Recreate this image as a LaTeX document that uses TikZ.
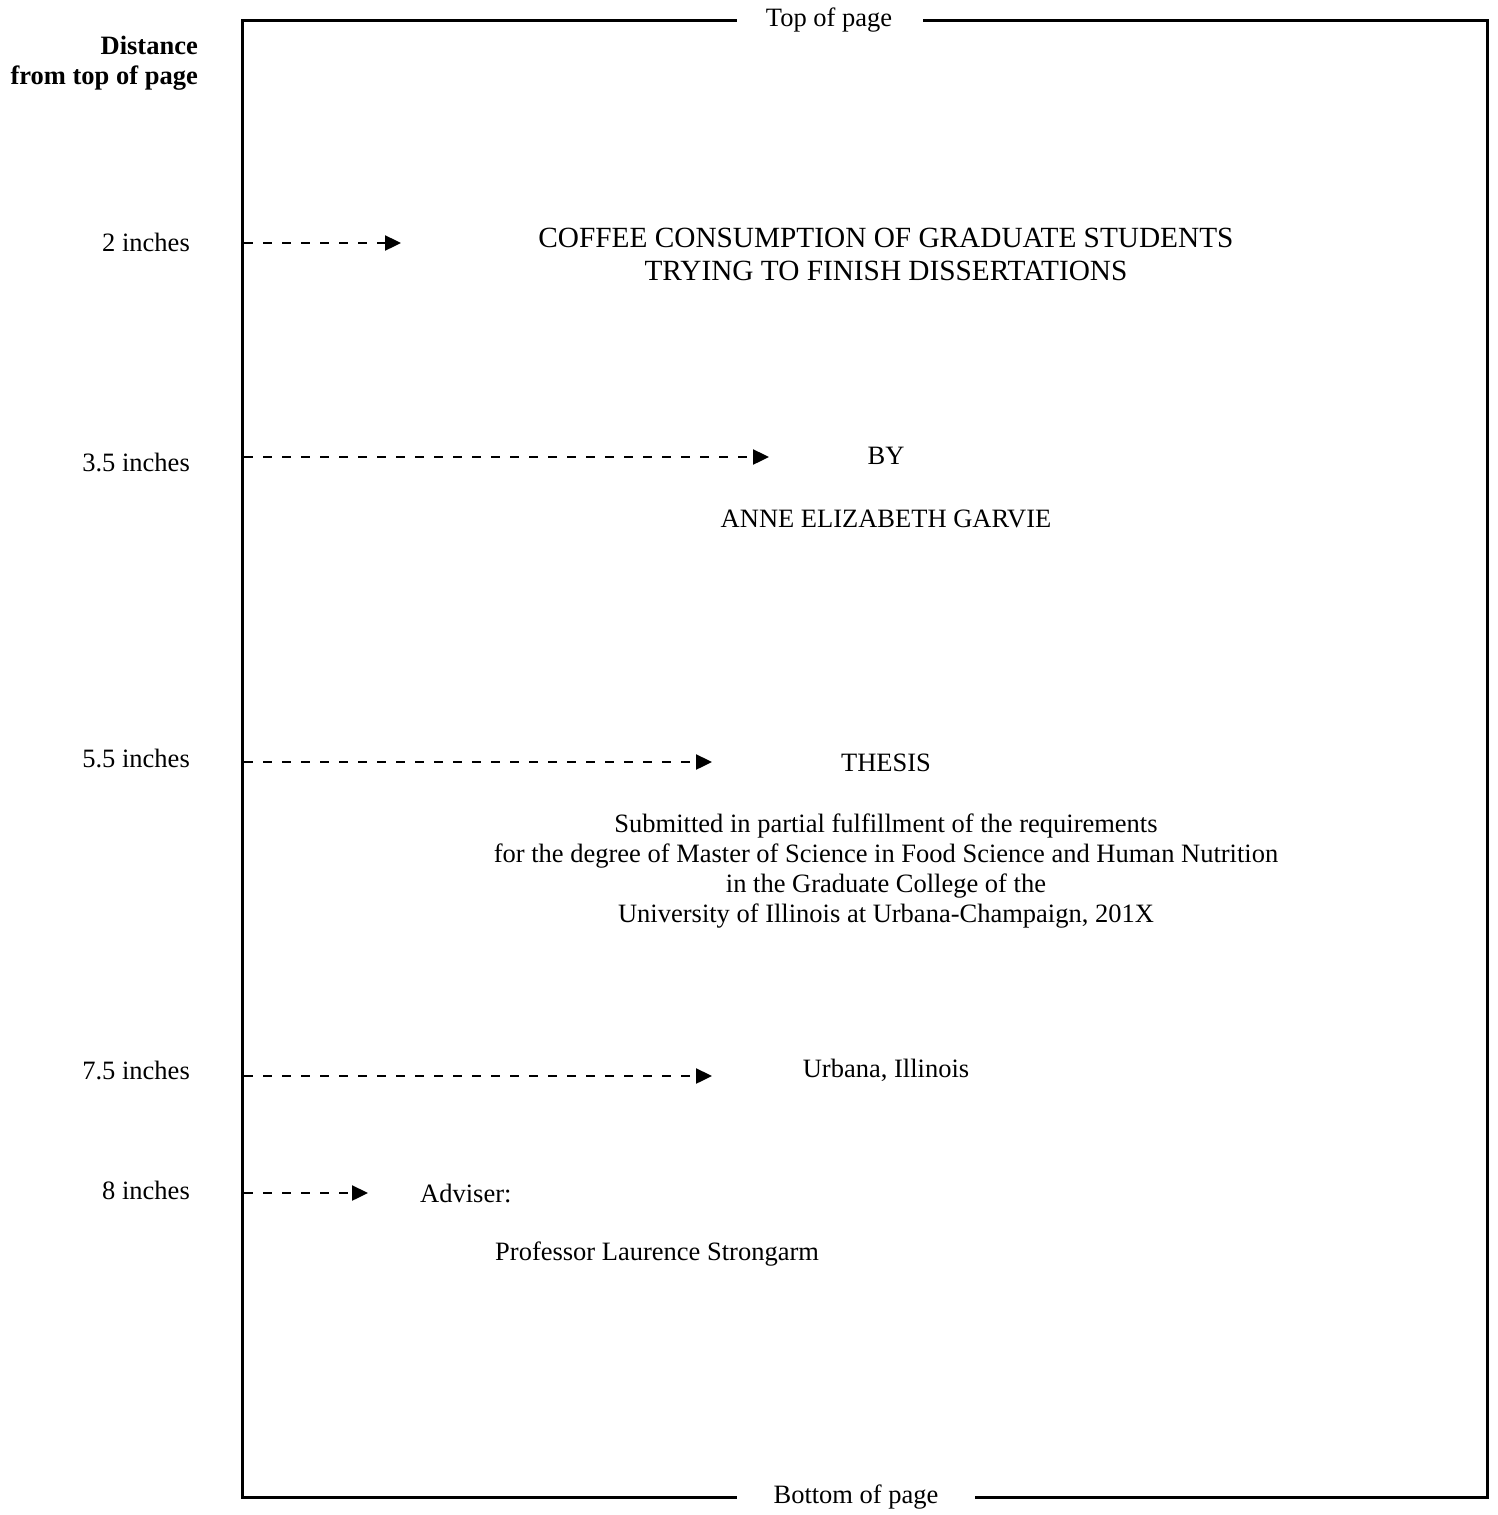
\documentclass[tikz,border=0pt]{standalone}
\usepackage{fontspec}
\setmainfont{Liberation Serif}
\usetikzlibrary{arrows.meta}
\begin{document}
\begin{tikzpicture}[x=1pt,y=-1pt,
  txt/.style={font=\fontsize{26.5}{30}\selectfont, inner sep=0pt},
  ttl/.style={font=\fontsize{29.3}{33}\selectfont, inner sep=0pt, align=center},
  lbl/.style={txt, anchor=east},
  frame/.style={line width=3pt},
  dasharrow/.style={line width=2.4pt, dash pattern=on 9pt off 10pt, -{Triangle[length=16pt,width=15pt]}}
]
\useasboundingbox (0,0) rectangle (1497,1515);
% frame corners
\coordinate (tl) at (242,20);
\coordinate (tr) at (1487,20);
\coordinate (bl) at (242,1497);
\coordinate (br) at (1487,1497);
\coordinate (t1) at (735,20);
\coordinate (t2) at (924,20);
\coordinate (b1) at (735,1497);
\coordinate (b2) at (976,1497);
\node[txt] (top) at (829,20) {Top of page};
\node[txt] (bottom) at (856,1497) {Bottom of page};
\draw[frame, line cap=rect] (t1) -- (tl) -- (bl) -- (b1);
\draw[frame, line cap=rect] (t2) -- (tr) -- (br) -- (b2);

% heading
\node[txt, font=\bfseries\fontsize{26.5}{30}\selectfont, align=right, anchor=east] (head) at (198,63) {Distance\\from top of page};

% distance labels
\node[lbl] (l2) at (190,242) {2 inches};
\node[lbl] (l35) at (190,462) {3.5 inches};
\node[lbl] (l55) at (190,758) {5.5 inches};
\node[lbl] (l75) at (190,1070) {7.5 inches};
\node[lbl] (l8) at (190,1190) {8 inches};

% arrows
\coordinate (s2) at (244,243);   \coordinate (e2) at (401,243);
\coordinate (s35) at (244,457);  \coordinate (e35) at (769,457);
\coordinate (s55) at (244,762);  \coordinate (e55) at (712,762);
\coordinate (s75) at (244,1076); \coordinate (e75) at (712,1076);
\coordinate (s8) at (244,1193);  \coordinate (e8) at (368,1193);
\draw[dasharrow] (s2) -- (e2);
\draw[dasharrow] (s35) -- (e35);
\draw[dasharrow] (s55) -- (e55);
\draw[dasharrow] (s75) -- (e75);
\draw[dasharrow] (s8) -- (e8);

% page content
\node[ttl] (title) at (886,254) {COFFEE CONSUMPTION OF GRADUATE STUDENTS\\TRYING TO FINISH DISSERTATIONS};
\node[txt] (by) at (886,456) {BY};
\node[txt] (author) at (886,519) {ANNE ELIZABETH GARVIE};
\node[txt] (thesis) at (886,763) {THESIS};
\node[txt, align=center] (sub) at (886,871) {Submitted in partial fulfillment of the requirements\\for the degree of Master of Science in Food Science and Human Nutrition\\in the Graduate College of the\\University of Illinois at Urbana-Champaign, 201X};
\node[txt] (place) at (886,1070) {Urbana, Illinois};
\node[txt, anchor=west] (adv) at (420,1193) {Adviser:};
\node[txt, anchor=west] (prof) at (495,1254) {Professor Laurence Strongarm};
\end{tikzpicture}
\end{document}
